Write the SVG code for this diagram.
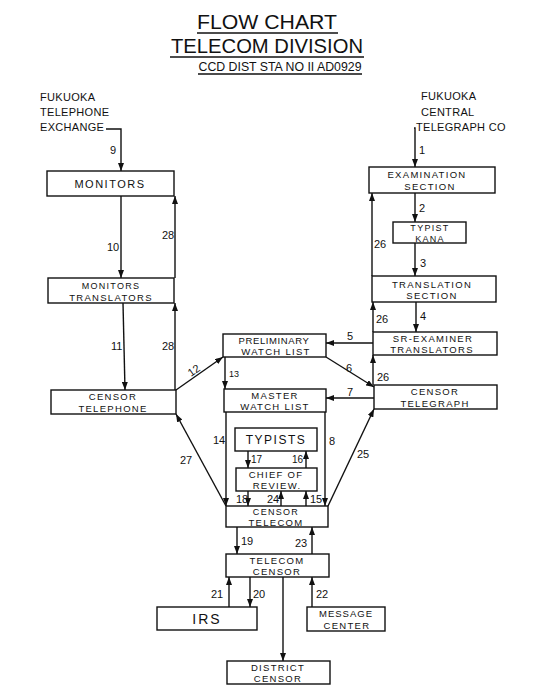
<svg xmlns="http://www.w3.org/2000/svg" width="533" height="700" viewBox="0 0 533 700">
<style>
.bg{fill:#fff}
.box{fill:#fff;stroke:#111;stroke-width:1.4}
.ln{fill:none;stroke:#111;stroke-width:1.4}
.t{font-family:"Liberation Sans",Arial,sans-serif;font-size:9.5px;fill:#111;text-anchor:middle;letter-spacing:1.3px}
.lb{font-family:"Liberation Sans",Arial,sans-serif;font-size:11px;fill:#111}
.src{font-family:"Liberation Sans",Arial,sans-serif;font-size:11px;fill:#111;letter-spacing:0.3px}
.ttl{font-family:"Liberation Sans",Arial,sans-serif;fill:#111;text-anchor:middle}
</style>
<defs>
<marker id="ar" markerWidth="8" markerHeight="6" refX="8" refY="3" orient="auto" markerUnits="userSpaceOnUse">
<path d="M0,0 L8,3 L0,6 z" fill="#111"/>
</marker>
</defs>
<rect class="bg" x="0" y="0" width="533" height="700"/>

<g id="title">
<text class="ttl" x="267" y="29" style="font-size:21px" textLength="140" lengthAdjust="spacingAndGlyphs">FLOW CHART</text>
<line class="ln" x1="197" y1="33" x2="338" y2="33"/>
<text class="ttl" x="267" y="53" style="font-size:21px" textLength="192" lengthAdjust="spacingAndGlyphs">TELECOM DIVISION</text>
<line class="ln" x1="170" y1="57" x2="364" y2="57"/>
<text class="ttl" x="280" y="71" style="font-size:12px" textLength="163" lengthAdjust="spacingAndGlyphs">CCD DIST STA NO II AD0929</text>
<line class="ln" x1="198" y1="74" x2="362" y2="74"/>
</g>

<g id="src-phone">
<text class="src" x="40" y="101">FUKUOKA</text>
<text class="src" x="40" y="116">TELEPHONE</text>
<text class="src" x="40" y="131">EXCHANGE</text>
</g>
<g id="src-telegraph">
<text class="src" x="421" y="100">FUKUOKA</text>
<text class="src" x="421" y="116">CENTRAL</text>
<text class="src" x="416" y="131">TELEGRAPH CO</text>
</g>

<g id="monitors"><rect class="box" x="47" y="171" width="127" height="25"/><text class="t" x="110" y="188" style="font-size:11px;letter-spacing:1.5px">MONITORS</text></g>
<g id="monitors-translators"><rect class="box" x="48" y="278" width="126" height="25"/><text class="t" x="111" y="289" style="font-size:9px">MONITORS</text><text class="t" x="111" y="300.5">TRANSLATORS</text></g>
<g id="censor-telephone"><rect class="box" x="51" y="390" width="125" height="24"/><text class="t" x="113" y="400">CENSOR</text><text class="t" x="113" y="411.5">TELEPHONE</text></g>

<g id="preliminary-watch-list"><rect class="box" x="223" y="334" width="103" height="23"/><text class="t" x="274" y="344" style="letter-spacing:0.6px">PRELIMINARY</text><text class="t" x="276" y="355">WATCH LIST</text></g>
<g id="master-watch-list"><rect class="box" x="224" y="389" width="102" height="23"/><text class="t" x="275" y="399">MASTER</text><text class="t" x="275" y="410">WATCH LIST</text></g>
<g id="typists"><rect class="box" x="235" y="428" width="82" height="23"/><text class="t" x="276" y="444" style="font-size:12px;letter-spacing:1.5px">TYPISTS</text></g>
<g id="chief-of-review"><rect class="box" x="236" y="468" width="81" height="23"/><text class="t" x="276" y="478">CHIEF OF</text><text class="t" x="277" y="489">REVIEW.</text></g>
<g id="censor-telecom"><rect class="box" x="226" y="506" width="102" height="21"/><text class="t" x="276" y="515" style="font-size:9px">CENSOR</text><text class="t" x="276" y="525.5">TELECOM</text></g>
<g id="telecom-censor"><rect class="box" x="226" y="554" width="103" height="23"/><text class="t" x="277" y="564">TELECOM</text><text class="t" x="277" y="575">CENSOR</text></g>
<g id="irs"><rect class="box" x="157" y="607" width="100" height="23"/><text class="t" x="207" y="624" style="font-size:14px;letter-spacing:2px">IRS</text></g>
<g id="message-center"><rect class="box" x="307" y="607" width="78" height="24"/><text class="t" x="346" y="617" style="letter-spacing:1px">MESSAGE</text><text class="t" x="347" y="628.5">CENTER</text></g>
<g id="district-censor"><rect class="box" x="227" y="661" width="103" height="23"/><text class="t" x="278" y="671">DISTRICT</text><text class="t" x="278" y="682">CENSOR</text></g>

<g id="examination-section"><rect class="box" x="369" y="167" width="126" height="26"/><text class="t" x="427" y="178">EXAMINATION</text><text class="t" x="430" y="190">SECTION</text></g>
<g id="typist-kana"><rect class="box" x="393" y="222" width="73" height="21"/><text class="t" x="430" y="231" style="font-size:9px">TYPIST</text><text class="t" x="430" y="241.5" style="font-size:9px">KANA</text></g>
<g id="translation-section"><rect class="box" x="372" y="276" width="124" height="26"/><text class="t" x="432" y="287.5">TRANSLATION</text><text class="t" x="432" y="299">SECTION</text></g>
<g id="sr-examiner"><rect class="box" x="373" y="332" width="124" height="23"/><text class="t" x="433" y="342">SR-EXAMINER</text><text class="t" x="432" y="353">TRANSLATORS</text></g>
<g id="censor-telegraph"><rect class="box" x="374" y="385" width="123" height="24"/><text class="t" x="435" y="395">CENSOR</text><text class="t" x="435" y="406.5">TELEGRAPH</text></g>

<g id="connectors">
<polyline class="ln" points="106,129 121,129 121,171" marker-end="url(#ar)"/>
<line class="ln" x1="121" y1="196" x2="121" y2="278" marker-end="url(#ar)"/>
<line class="ln" x1="123" y1="303" x2="125" y2="390" marker-end="url(#ar)"/>
<line class="ln" x1="175" y1="390" x2="175" y2="303" marker-end="url(#ar)"/>
<line class="ln" x1="175" y1="278" x2="175" y2="196" marker-end="url(#ar)"/>
<line class="ln" x1="176" y1="390" x2="223" y2="357" marker-end="url(#ar)"/>
<line class="ln" x1="225" y1="357" x2="225" y2="389" marker-end="url(#ar)"/>
<line class="ln" x1="226" y1="412" x2="226" y2="506" marker-end="url(#ar)"/>
<line class="ln" x1="325" y1="412" x2="325" y2="506" marker-end="url(#ar)"/>
<line class="ln" x1="248" y1="451" x2="248" y2="468" marker-end="url(#ar)"/>
<line class="ln" x1="306" y1="468" x2="306" y2="451" marker-end="url(#ar)"/>
<line class="ln" x1="248" y1="491" x2="248" y2="506" marker-end="url(#ar)"/>
<line class="ln" x1="281" y1="506" x2="281" y2="491" marker-end="url(#ar)"/>
<line class="ln" x1="306" y1="506" x2="306" y2="491" marker-end="url(#ar)"/>
<line class="ln" x1="226" y1="506" x2="176" y2="414" marker-end="url(#ar)"/>
<line class="ln" x1="328" y1="506" x2="374" y2="409" marker-end="url(#ar)"/>
<line class="ln" x1="237" y1="527" x2="237" y2="554" marker-end="url(#ar)"/>
<line class="ln" x1="312" y1="554" x2="312" y2="527" marker-end="url(#ar)"/>
<line class="ln" x1="250" y1="577" x2="250" y2="607" marker-end="url(#ar)"/>
<line class="ln" x1="229" y1="607" x2="229" y2="577" marker-end="url(#ar)"/>
<line class="ln" x1="312" y1="607" x2="312" y2="577" marker-end="url(#ar)"/>
<line class="ln" x1="283" y1="577" x2="283" y2="661" marker-end="url(#ar)"/>
<polyline class="ln" points="414,128 415,128 415,167" marker-end="url(#ar)"/>
<line class="ln" x1="415" y1="193" x2="415" y2="222" marker-end="url(#ar)"/>
<line class="ln" x1="415" y1="243" x2="415" y2="276" marker-end="url(#ar)"/>
<line class="ln" x1="416" y1="302" x2="416" y2="332" marker-end="url(#ar)"/>
<line class="ln" x1="373" y1="385" x2="373" y2="355" marker-end="url(#ar)"/>
<line class="ln" x1="373" y1="332" x2="373" y2="302" marker-end="url(#ar)"/>
<line class="ln" x1="372" y1="276" x2="372" y2="193" marker-end="url(#ar)"/>
<line class="ln" x1="373" y1="343" x2="326" y2="343" marker-end="url(#ar)"/>
<line class="ln" x1="326" y1="357" x2="374" y2="387" marker-end="url(#ar)"/>
<line class="ln" x1="374" y1="398" x2="326" y2="398" marker-end="url(#ar)"/>
</g>

<g id="labels">
<text class="lb" x="110" y="154">9</text>
<text class="lb" x="107" y="251">10</text>
<text class="lb" x="162" y="239">28</text>
<text class="lb" x="111" y="350">11</text>
<text class="lb" x="162" y="350">28</text>
<text class="lb" transform="translate(191,377) rotate(-35)">12</text>
<text class="lb" x="229" y="377" style="font-size:9px">13</text>
<text class="lb" x="213" y="444">14</text>
<text class="lb" x="329" y="445">8</text>
<text class="lb" x="251" y="463" style="font-size:10px">17</text>
<text class="lb" x="292" y="463" style="font-size:10px">16</text>
<text class="lb" x="236" y="503">18</text>
<text class="lb" x="267" y="503">24</text>
<text class="lb" x="310" y="503">15</text>
<text class="lb" x="180" y="464">27</text>
<text class="lb" x="357" y="458">25</text>
<text class="lb" x="241" y="545">19</text>
<text class="lb" x="295" y="547">23</text>
<text class="lb" x="211" y="598">21</text>
<text class="lb" x="253" y="598">20</text>
<text class="lb" x="316" y="598">22</text>
<text class="lb" x="419" y="154">1</text>
<text class="lb" x="419" y="212">2</text>
<text class="lb" x="420" y="267">3</text>
<text class="lb" x="420" y="320">4</text>
<text class="lb" x="374" y="248">26</text>
<text class="lb" x="376" y="323">26</text>
<text class="lb" x="377" y="381">26</text>
<text class="lb" x="347" y="340">5</text>
<text class="lb" x="346" y="372">6</text>
<text class="lb" x="347" y="396">7</text>
</g>
</svg>
